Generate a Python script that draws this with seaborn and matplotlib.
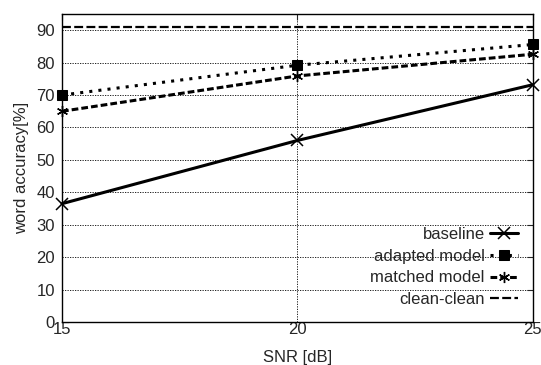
import numpy as np
import pandas as pd
import seaborn as sns
import matplotlib.pyplot as plt

# values
snr = [15, 20, 25]
baseline = [36.5, 56.0, 73.2]
adapted = [70.0, 79.2, 85.6]
matched = [65.0, 75.9, 82.6]
clean = [91.0, 91.0, 91.0]

sns.set_style("white")
plt.rcParams['font.family'] = ['Liberation Sans', 'DejaVu Sans']
plt.rcParams['font.size'] = 12

df = pd.DataFrame({'snr': snr, 'baseline': baseline, 'adapted model': adapted,
                   'matched model': matched, 'clean-clean': clean})

fig = plt.figure(figsize=(5.41, 3.65), dpi=100)
ax = fig.add_axes([0.1146, 0.1178, 0.8704, 0.8438])

asterisk = (6, 2, 0)
common = dict(ax=ax, color='black', mec='black', mfc='black', clip_on=False)
sns.lineplot(data=df, x='snr', y='baseline', lw=2.2,
             marker='x', markersize=8, mew=1.1, label='baseline', **common)
sns.lineplot(data=df, x='snr', y='adapted model', lw=2.2,
             ls=(0, (1, 2)), marker='s', markersize=7, label='adapted model', **common)
sns.lineplot(data=df, x='snr', y='matched model', lw=2.2,
             ls=(0, (2.2, 1.0)), marker=asterisk, markersize=8, mew=1.0,
             label='matched model', **common)
sns.lineplot(data=df, x='snr', y='clean-clean', lw=1.6,
             ls=(0, (4, 1.5)), label='clean-clean', **common)

ax.set_xlim(15, 25)
ax.set_ylim(0, 95)
ax.set_xticks([15, 20, 25])
ax.set_yticks(range(0, 100, 10))
ax.set_xlabel('SNR [dB]', labelpad=9)
ax.set_ylabel('word accuracy[%]', labelpad=5)
ax.grid(True, color='black', ls=(0, (1.5, 1.5)), lw=0.6)
ax.tick_params(axis='x', direction='in', length=4, pad=0, top=True)
ax.tick_params(axis='y', direction='in', length=4, pad=5, right=True)
for s in ax.spines.values():
    s.set_color('black')
    s.set_linewidth(1.0)

leg = ax.legend(loc='lower right', frameon=False, markerfirst=False,
                handlelength=1.7, handletextpad=0.3, labelspacing=0.4,
                borderaxespad=0.5, fontsize=12)

fig.savefig('out.png', dpi=100)
